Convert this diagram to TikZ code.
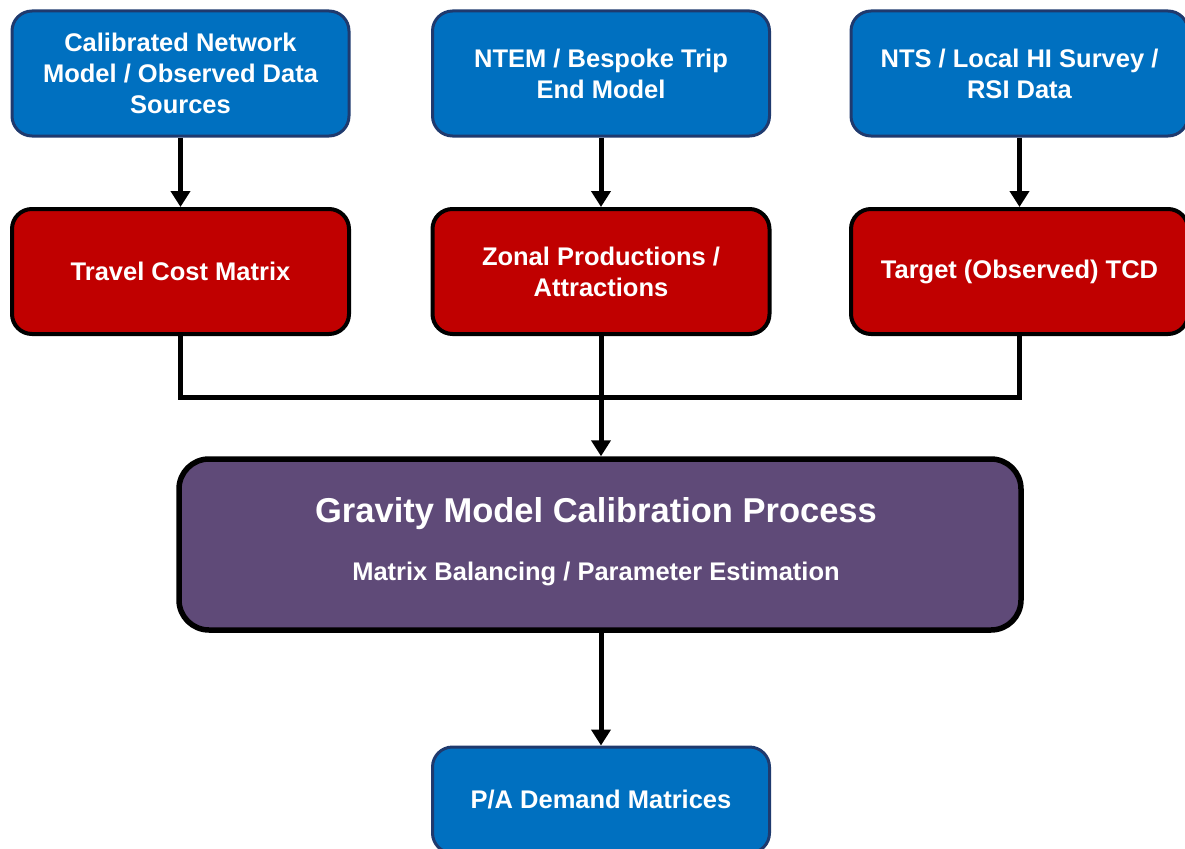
\documentclass[tikz,border=0pt]{standalone}
\usepackage{fontspec}
\setmainfont{Liberation Sans}
\usetikzlibrary{arrows.meta}
\definecolor{srcblue}{HTML}{0070C0}
\definecolor{srcedge}{HTML}{1F3A6E}
\definecolor{inred}{HTML}{C00000}
\definecolor{procpurple}{HTML}{5F4A78}
\begin{document}
\begin{tikzpicture}[x=1pt,y=-1pt,
  basebox/.style={rounded corners=20pt, minimum width=337pt, minimum height=125pt,
    align=center, text=white, font=\fontsize{25.5}{31}\selectfont\bfseries, inner sep=0pt},
  srcbox/.style={basebox, fill=srcblue, draw=srcedge, line width=3pt},
  inbox/.style={basebox, fill=inred, draw=black, line width=4pt},
  procbox/.style={rounded corners=30pt, minimum width=842pt, minimum height=171pt,
    fill=procpurple, draw=black, line width=5.5pt},
  flow/.style={line width=5pt, -{Triangle[length=16pt,width=19pt]}},
  joint/.style={line width=5pt}]
\useasboundingbox (0,0) rectangle (1185,848);
\clip (0,0) rectangle (1185,848);

% data sources
\node[srcbox] (netsrc) at (180.5,73.5) {Calibrated Network\\Model / Observed Data\\Sources};
\node[srcbox] (ntem) at (601,73.5) {NTEM / Bespoke Trip\\End Model};
\node[srcbox] (nts) at (1019.5,73.5) {NTS / Local HI Survey /\\RSI Data};

% model inputs
\node[inbox] (cost) at (180.5,271.5) {Travel Cost Matrix};
\node[inbox] (zonal) at (601,271.5) {Zonal Productions /\\Attractions};
\node[inbox] (tcd) at (1019.5,271.5) {Target (Observed) TCD};

% calibration process
\node[procbox] (grav) at (600,544.5) {};
\node[text=white, font=\fontsize{34.5}{40}\selectfont\bfseries] (gravtitle) at (596,514) {Gravity Model Calibration Process};
\node[text=white, font=\fontsize{25.5}{31}\selectfont\bfseries] (gravsub) at (596,574) {Matrix Balancing / Parameter Estimation};

% output
\node[srcbox, minimum height=106pt] (demand) at (601,800) {P/A Demand Matrices};

% connectors
\draw[flow] (netsrc.south) -- (cost.north);
\draw[flow] (ntem.south) -- (zonal.north);
\draw[flow] (nts.south) -- (tcd.north);
\coordinate (busL) at (180.5,397);
\coordinate (busR) at (1019.5,397);
\draw[joint, line join=miter] (cost.south) -- (busL) -- (busR) -- (tcd.south);
\draw[flow] (zonal.south) -- (grav.north -| zonal.south);
\draw[flow] (grav.south -| demand.north) -- (demand.north);
\end{tikzpicture}
\end{document}
